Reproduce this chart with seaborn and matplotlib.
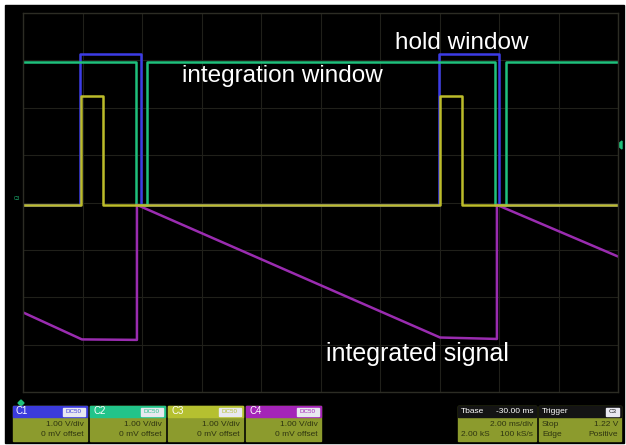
import matplotlib.pyplot as plt
import pandas as pd
import seaborn as sns
from matplotlib.patches import Rectangle, Polygon

sns.set_style("dark")
plt.rcParams['font.family'] = ['Liberation Sans', 'DejaVu Sans']

# scope traces, time in ms (Tbase -30 ms, 2 ms/div), volts (1 V/div)
t_c1 = [-40, -38.08, -38.08, -36.03, -36.03, -26.02, -26.02, -24.0, -24.0, -20]
v_c1 = [-0.05, -0.05, 3.14, 3.14, -0.05, -0.05, 3.14, 3.14, -0.05, -0.05]

t_c2 = [-40, -36.2, -36.2, -35.83, -35.83, -24.13, -24.13, -23.76, -23.76, -20]
v_c2 = [2.97, 2.97, -0.05, -0.05, 2.97, 2.97, -0.05, -0.05, 2.97, 2.97]

t_c3 = [-40, -38.05, -38.05, -37.31, -37.31, -25.98, -25.98, -25.24, -25.24, -20]
v_c3 = [-0.05, -0.05, 2.24, 2.24, -0.05, -0.05, 2.24, 2.24, -0.05, -0.05]

t_c4 = [-40, -38.02, -36.17, -36.17, -25.98, -24.07, -24.07, -20]
v_c4 = [-2.32, -2.89, -2.9, -0.05, -2.85, -2.88, -0.05, -1.14]

channels = ["C1", "C2", "C4", "C3"]
colors = {"C1": "#3c3ce6", "C2": "#1fc07c", "C3": "#bcbc2a", "C4": "#9a2cb0"}

frames = []
for name, t, v in [("C1", t_c1, v_c1), ("C2", t_c2, v_c2),
                   ("C3", t_c3, v_c3), ("C4", t_c4, v_c4)]:
    frames.append(pd.DataFrame({"t": t, "v": v, "ch": name}))
data = pd.concat(frames, ignore_index=True)

fig = plt.figure(figsize=(6.26, 4.45), dpi=100, facecolor="white")

# overlay in pixel coordinates for the screen and info panels
ov = fig.add_axes([0, 0, 1, 1], zorder=0)
ov.set_xlim(0, 626)
ov.set_ylim(445, 0)
ov.axis("off")
ov.add_patch(Rectangle((5, 5), 619, 438, color="black"))

ax = fig.add_axes([23 / 626, 53 / 445, 595 / 626, 379 / 445], zorder=1)
ax.set_facecolor("black")
sns.lineplot(data=data, x="t", y="v", hue="ch", hue_order=channels,
             palette=colors, estimator=None, sort=False, legend=False,
             linewidth=1.8, ax=ax)

ax.set_xlim(-40, -20)
ax.set_ylim(-4, 4)
ax.set_xticks([-40 + 2 * i for i in range(11)])
ax.set_yticks(range(-4, 5))
ax.grid(True, color="#20201a", linewidth=0.8)
ax.tick_params(length=0, labelbottom=False, labelleft=False)
ax.set_xlabel("")
ax.set_ylabel("")
for s in ax.spines.values():
    s.set_visible(True)
    s.set_color("#2c2c24")
    s.set_linewidth(1)

ax.text(-27.5, 3.23, "hold window", color="white", fontsize=17.5, va="baseline")
ax.text(-34.66, 2.55, "integration window", color="white", fontsize=17.5, va="baseline")
ax.text(-29.82, -3.35, "integrated signal", color="white", fontsize=18, va="baseline")

# small markers
ov.text(14, 199, "C3", color="#1fc07c", fontsize=3.5, va="center")
ov.add_patch(Polygon([[617, 145], [622, 141], [622, 149]], color="#1fc07c"))
ov.add_patch(Polygon([[21, 400], [24, 403], [21, 406], [18, 403]], color="#1fc07c"))

olive = "#8c9b2d"
txt_dark = "#2e3410"

def channel_box(x0, x1, label, head):
    ov.add_patch(Rectangle((x0, 406), x1 - x0, 35, color=olive))
    ov.add_patch(Rectangle((x0, 406), x1 - x0, 11, color=head))
    ov.add_patch(Rectangle((x1 - 24, 407.5), 22, 8, color="#e8e8f0"))
    ov.text(x0 + 3, 411.5, label, color="white", fontsize=7, va="center")
    ov.text(x1 - 13, 411.5, "DC50", color=head, fontsize=4.5, va="center", ha="center")
    ov.text(x1 - 3, 424, "1.00 V/div", color=txt_dark, fontsize=6, va="center", ha="right")
    ov.text(x1 - 3, 435, "0 mV offset", color=txt_dark, fontsize=6, va="center", ha="right")

channel_box(13, 87, "C1", "#3b3bdc")
channel_box(90, 165, "C2", "#22c48a")
channel_box(168, 243, "C3", "#b5c030")
channel_box(246, 321, "C4", "#a424b8")

# timebase panel
ov.add_patch(Rectangle((458, 406), 78, 35, color=olive))
ov.add_patch(Rectangle((458, 406), 78, 11, color="#141414"))
ov.text(461, 411.5, "Tbase", color="white", fontsize=6, va="center")
ov.text(533, 411.5, "-30.00 ms", color="white", fontsize=6, va="center", ha="right")
ov.text(533, 424, "2.00 ms/div", color=txt_dark, fontsize=6, va="center", ha="right")
ov.text(461, 435, "2.00 kS", color=txt_dark, fontsize=6, va="center")
ov.text(533, 435, "100 kS/s", color=txt_dark, fontsize=6, va="center", ha="right")

# trigger panel
ov.add_patch(Rectangle((539, 406), 82, 35, color=olive))
ov.add_patch(Rectangle((539, 406), 82, 11, color="#141414"))
ov.add_patch(Rectangle((606, 407.5), 13, 8, color="#e8e8f0"))
ov.text(542, 411.5, "Trigger", color="white", fontsize=6, va="center")
ov.text(612.5, 411.5, "C3", color="#141414", fontsize=4.5, va="center", ha="center")
ov.text(542, 424, "Stop", color=txt_dark, fontsize=6, va="center")
ov.text(618, 424, "1.22 V", color=txt_dark, fontsize=6, va="center", ha="right")
ov.text(542, 435, "Edge", color=txt_dark, fontsize=6, va="center")
ov.text(618, 435, "Positive", color=txt_dark, fontsize=6, va="center", ha="right")

plt.savefig("out.png", dpi=100, facecolor="white")
